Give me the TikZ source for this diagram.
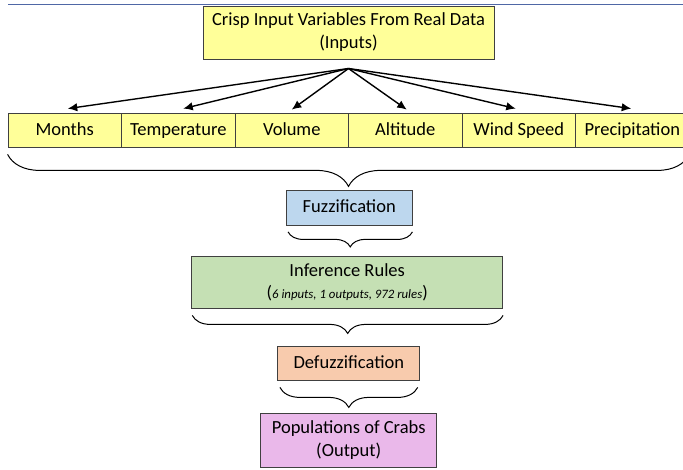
\documentclass[tikz,border=0pt]{standalone}
\usepackage{fontspec}
\setmainfont{Carlito}
\usepackage{tikz}
\usetikzlibrary{decorations.pathreplacing,arrows.meta,calc}

\definecolor{topline}{HTML}{4F67A6}
\definecolor{inyellow}{HTML}{FFFF99}
\definecolor{fuzzblue}{HTML}{BDD7EE}
\definecolor{rulegreen}{HTML}{C5E0B4}
\definecolor{defpeach}{HTML}{F8CBAD}
\definecolor{outpink}{HTML}{EAB8EA}
\definecolor{edgegray}{HTML}{404040}

\begin{document}
\begin{tikzpicture}[x=1pt, y=-1pt,
    every node/.style={font=\fontsize{18.5}{23}\selectfont},
    box/.style={draw=edgegray, line width=0.8pt, inner sep=0pt, align=center},
    onerow/.style={text height=13.5pt, text depth=3.5pt},
    varbox/.style={box, onerow, fill=inyellow, minimum width=113.5pt, minimum height=34pt},
    link/.style={-{Latex[length=9.5pt,width=8.5pt]}, line width=1.4pt},
    curly/.style={decorate, decoration={brace, mirror, amplitude=#1}, line width=1pt}]

    % Frame
    \useasboundingbox (0,0) rectangle (683,469);
    \clip (0,0) rectangle (683,469);

    % Rule at the top
    \draw[topline, line width=1.6pt] (8,4.5) -- (683,4.5);

    % Crisp inputs
    \node[box, fill=inyellow, minimum width=291pt, minimum height=53pt] (crisp) at (348.5,32.5)
        {Crisp Input Variables From Real Data\\(Inputs)};
    \coordinate (src) at (348.5,68.5);

    % Input variables
    \node[varbox] (m1) at (64.75,130) {Months};
    \node[varbox] (m2) at (178.25,130) {Temperature};
    \node[varbox] (m3) at (291.75,130) {Volume};
    \node[varbox] (m4) at (405.25,130) {Altitude};
    \node[varbox] (m5) at (518.75,130) {Wind Speed};
    \node[varbox] (m6) at (632.25,130) {Precipitation};

    % Arrows to the variables
    \draw[link] (src) -- ([xshift=3pt,yshift=4pt]m1.north);
    \draw[link] (src) -- ([xshift=5pt,yshift=4pt]m2.north);
    \draw[link] (src) -- ([yshift=3pt]m3.north);
    \draw[link] (src) -- ([xshift=1.5pt,yshift=3pt]m4.north);
    \draw[link] (src) -- ([xshift=-3pt,yshift=4pt]m5.north);
    \draw[link] (src) -- ([xshift=-1pt,yshift=4pt]m6.north);

    % Fuzzification
    \draw[curly=32] ([yshift=-7pt]m1.south west) -- ([yshift=-7pt]m6.south east);
    \node[box, onerow, fill=fuzzblue, minimum width=125.5pt, minimum height=34.5pt] (fuzz) at (349.25,207.75)
        {Fuzzification};

    % Inference rules
    \draw[curly=15] ($(fuzz.south west)+(2,6.5)$) -- ($(fuzz.south east)+(0,6.5)$);
    \node[box, fill=rulegreen, minimum width=311pt, minimum height=52pt] (rules) at (347.2,282)
        {Inference Rules\\[-1pt]
         {\fontsize{18}{20}\selectfont(}{\fontsize{12.8}{20}\selectfont\itshape 6 inputs, 1 outputs, 972 rules}{\fontsize{18}{20}\selectfont)}};

    % Defuzzification
    \draw[curly=18] ($(rules.south west)+(1,7)$) -- ($(rules.south east)+(0,7)$);
    \node[box, onerow, fill=defpeach, minimum width=142pt, minimum height=34pt] (defuzz) at (348.8,363)
        {Defuzzification};

    % Output
    \draw[curly=20] ($(defuzz.south west)+(2.5,7)$) -- ($(defuzz.south east)+(-2.5,7)$);
    \node[box, fill=outpink, minimum width=176pt, minimum height=54pt] (crabs) at (348.7,440)
        {Populations of Crabs\\(Output)};

\end{tikzpicture}
\end{document}
